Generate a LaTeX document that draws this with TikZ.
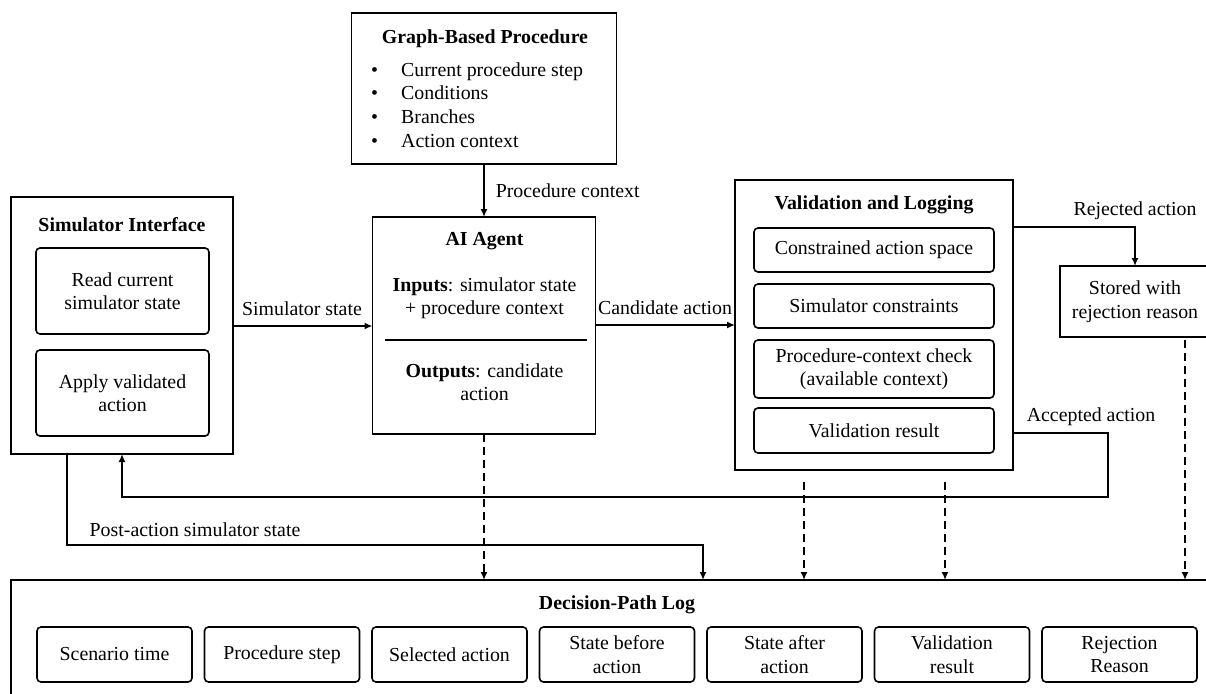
\documentclass[tikz,border=0pt]{standalone}
\usepackage{fontspec}
\setmainfont{Liberation Serif}
\usetikzlibrary{arrows.meta,calc}
\tikzset{
  box/.style={draw=black, line width=1.6pt, fill=white, inner sep=0pt, outer sep=0pt},
  ibox/.style={draw=black, line width=1.6pt, rounded corners=4pt, inner sep=0pt, outer sep=0pt, align=center, font=\mainfs},
  txt/.style={inner sep=0pt, align=center, font=\mainfs},
  ttl/.style={inner sep=0pt, align=center, font=\mainfs\bfseries},
  conn/.style={line width=1.6pt, -{Latex[length=8pt,width=7pt]}},
  plain/.style={line width=1.6pt},
  dconn/.style={line width=1.6pt, dash pattern=on 8pt off 5pt, -{Latex[length=8pt,width=7pt]}},
}
\newcommand{\mainfs}{\fontsize{19.85}{23.5}\selectfont}
\begin{document}
\begin{tikzpicture}[x=1pt,y=-1pt]
\useasboundingbox (0,0) rectangle (1206,693);
\fill[white] (0,0) rectangle (1206,693);
\clip (0,0) rectangle (1206,693);

% Simulator Interface
\node[box, minimum width=222pt, minimum height=257pt] (sim) at (122,325.5) {};
\node[ttl] (simT) at (122,225) {Simulator Interface};
\node[ibox, minimum width=173pt, minimum height=86pt] (read) at (122.5,291) {Read current\\simulator state};
\node[ibox, minimum width=173pt, minimum height=86pt] (apply) at (122.5,393) {Apply validated\\action};

% Graph-Based Procedure
\node[box, minimum width=265pt, minimum height=151pt] (gbp) at (484,88.5) {};
\node[ttl] (gbpT) at (485,39) {Graph-Based Procedure};
\foreach \yy/\tt [count=\i] in {76/Current procedure step, 99/Conditions, 123/Branches, 147/Action context}{
  \node[txt, anchor=base west] (l\i) at (371,\yy) {\makebox[30pt][l]{•}\tt};
}

% AI Agent
\node[box, minimum width=223pt, minimum height=217pt] (ai) at (484,325.5) {};
\node[ttl] (aiT) at (484.5,241) {AI Agent};
\node[txt] (aiIn) at (484.5,298) {\textbf{Inputs}: simulator state\\+ procedure context};
\coordinate (sepL) at (385,340);
\coordinate (sepR) at (587,340);
\draw[plain] (sepL) -- (sepR);
\node[txt] (aiOut) at (484.5,382) {\textbf{Outputs}: candidate\\action};

% Validation and Logging
\node[box, minimum width=278pt, minimum height=290pt] (val) at (874,325) {};
\node[ttl] (valT) at (874,205) {Validation and Logging};
\node[ibox, minimum width=240pt, minimum height=44pt] (v1) at (874,250) {Constrained action space};
\node[ibox, minimum width=240pt, minimum height=44pt] (v2) at (874,306) {Simulator constraints};
\node[ibox, minimum width=240pt, minimum height=58pt] (v3) at (874,369) {Procedure-context check\\(available context)};
\node[ibox, minimum width=240pt, minimum height=45pt] (v4) at (874,430.5) {Validation result};

% Stored
\node[box, minimum width=150pt, minimum height=71pt, align=center, font=\mainfs] (stored) at (1135,301.5) {Stored with\\rejection reason};

% Decision-Path Log
\node[box, minimum width=1212pt, minimum height=130pt] (log) at (617,645) {};
\node[ttl] (logT) at (617,605) {Decision-Path Log};
\foreach \tt [count=\i] in {Scenario time, Procedure step, Selected action, State before\\action, State after\\action, Validation\\result, Rejection\\Reason}{
  \node[ibox, minimum width=155pt, minimum height=55pt] (g\i) at ({114.5+(\i-1)*167.5},654.5) {\tt};
}

% Connectors
\draw[conn] (gbp.south) -- (ai.north) node[pos=0.5, anchor=west, txt, xshift=11pt] (lblPC) {Procedure context};
\draw[conn] (sim.east |- 0,326) -- (ai.west |- 0,326);
\node[txt] (lblSS) at (302,309) {Simulator state};
\draw[conn] (ai.east |- 0,325) -- (val.west |- 0,325);
\node[txt] (lblCA) at (665,308) {Candidate action};

\draw[conn] (val.east |- 0,227) -| (stored.north);
\node[txt] (lblRA) at (1135,211) {Rejected action};

\coordinate (accTurn) at (1108,497);
\draw[conn] (val.east |- 0,433) -| (accTurn) -| (sim.south -| 122,0);
\node[txt] (lblAA) at (1091,417) {Accepted action};

\coordinate (postTurn) at (703,545);
\draw[conn] (sim.south -| 67,0) |- (postTurn) -- (log.north -| postTurn);
\node[txt] (lblPA) at (195,530) {Post-action simulator state};

% Dashed log feeds
\draw[dconn] (ai.south) -- (log.north -| ai.south);
\coordinate (vd1) at (804,482);
\coordinate (vd2) at (945,482);
\draw[dconn] (vd1) -- (log.north -| vd1);
\draw[dconn] (vd2) -- (log.north -| vd2);
\coordinate (sd) at (1185,340);
\draw[dconn] (sd) -- (log.north -| sd);
\end{tikzpicture}
\end{document}
